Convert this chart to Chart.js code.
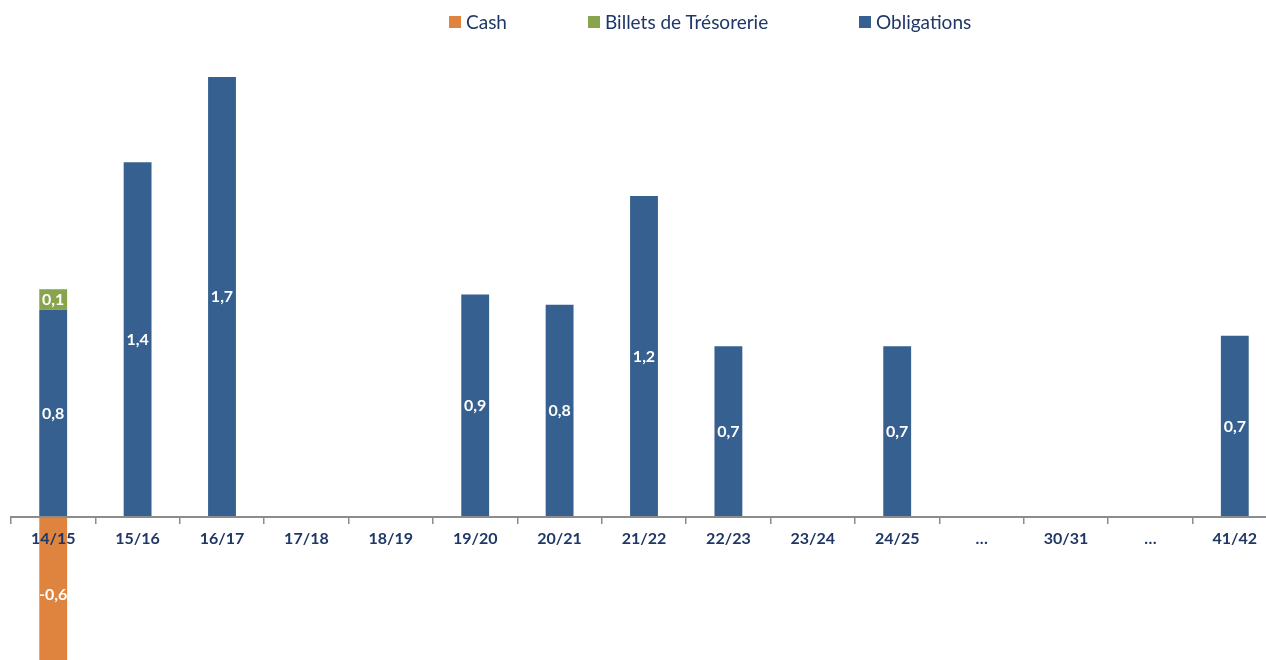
<!DOCTYPE html>
<html lang="fr">
<head>
    <meta charset="UTF-8">
    <title>Echeancier</title>
    <script src="https://cdn.jsdelivr.net/npm/chart.js"></script>
    <style>
        html, body { margin: 0; padding: 0; background: #fff; overflow: hidden; }
        #wrap { position: relative; width: 1277px; height: 660px; }
        #legend { position: absolute; top: 10px; left: 0; width: 100%;
                  font-family: Lato, "Open Sans", sans-serif; font-size: 19px; color: #1F3767; }
        #legend span.item { position: absolute; top: 0; display: flex; align-items: center; white-space: nowrap; }
        #legend span.box { width: 12px; height: 12px; margin-right: 5px; display: inline-block; }
    </style>
</head>
<body>
<div id="wrap">
    <div id="legend"></div>
    <canvas id="chart" width="1277" height="660"></canvas>
</div>
<script>
    // catégories (années)
    const categories = ['14/15', '15/16', '16/17', '17/18', '18/19', '19/20', '20/21', '21/22', '22/23', '23/24', '24/25', '…', '30/31', '…', '41/42'];

    // séries (Md)
    const obligations = [0.80, 1.37, 1.70, 0, 0, 0.86, 0.82, 1.24, 0.66, 0, 0.66, 0, 0, 0, 0.70];
    const billets = [0.08, 0, 0, 0, 0, 0, 0, 0, 0, 0, 0, 0, 0, 0, 0];
    const cash = [-0.6, 0, 0, 0, 0, 0, 0, 0, 0, 0, 0, 0, 0, 0, 0];

    const seriesNames = ['Cash', 'Billets de Trésorerie', 'Obligations'];
    const seriesColors = ['#DE843F', '#88A44C', '#36608F'];
    const legendLeft = [449, 588, 859];

    // légende html
    const legendEl = document.getElementById('legend');
    seriesNames.forEach((name, i) => {
        const item = document.createElement('span');
        item.className = 'item';
        item.style.left = legendLeft[i] + 'px';
        item.innerHTML = '<span class="box" style="background:' + seriesColors[i] + '"></span>' + name;
        legendEl.appendChild(item);
    });

    // étiquettes blanches au centre des barres
    const barLabels = {
        id: 'barLabels',
        afterDatasetsDraw(chart) {
            const ctx = chart.ctx;
            ctx.save();
            ctx.font = 'bold 16px Lato, "Open Sans", sans-serif';
            ctx.fillStyle = '#fff';
            ctx.textAlign = 'center';
            ctx.textBaseline = 'middle';
            chart.data.datasets.forEach((ds, di) => {
                const meta = chart.getDatasetMeta(di);
                meta.data.forEach((bar, i) => {
                    const v = ds.data[i];
                    if (!v) return;
                    const txt = v.toFixed(1).replace('.', ',');
                    ctx.fillText(txt, bar.x, (bar.y + bar.base) / 2);
                });
            });
            ctx.restore();
        }
    };

    new Chart(document.getElementById('chart'), {
        type: 'bar',
        data: {
            labels: categories,
            datasets: [
                { label: seriesNames[2], data: obligations, backgroundColor: seriesColors[2] },
                { label: seriesNames[1], data: billets, backgroundColor: seriesColors[1] },
                { label: seriesNames[0], data: cash, backgroundColor: seriesColors[0] }
            ]
        },
        options: {
            responsive: false,
            animation: false,
            layout: { padding: { left: 11, right: 0, top: 51, bottom: 0 } },
            datasets: { bar: { barPercentage: 0.33, categoryPercentage: 1 } },
            plugins: { legend: { display: false }, tooltip: { enabled: false } },
            scales: {
                x: {
                    stacked: true,
                    position: { y: 0 },
                    grid: { drawOnChartArea: false, offset: true, tickLength: 6, color: '#8C8C8C', lineWidth: 1.5, z: 1 },
                    border: { display: true, color: '#8C8C8C', width: 2, z: 1 },
                    ticks: { z: 1, color: '#1F3767', padding: 6, font: { family: 'Lato, "Open Sans", sans-serif', size: 16, weight: 'bold' }, maxRotation: 0, autoSkip: false }
                },
                y: {
                    stacked: true,
                    display: false,
                    min: -0.552,
                    max: 1.8
                }
            }
        },
        plugins: [barLabels]
    });
</script>
</body>
</html>
